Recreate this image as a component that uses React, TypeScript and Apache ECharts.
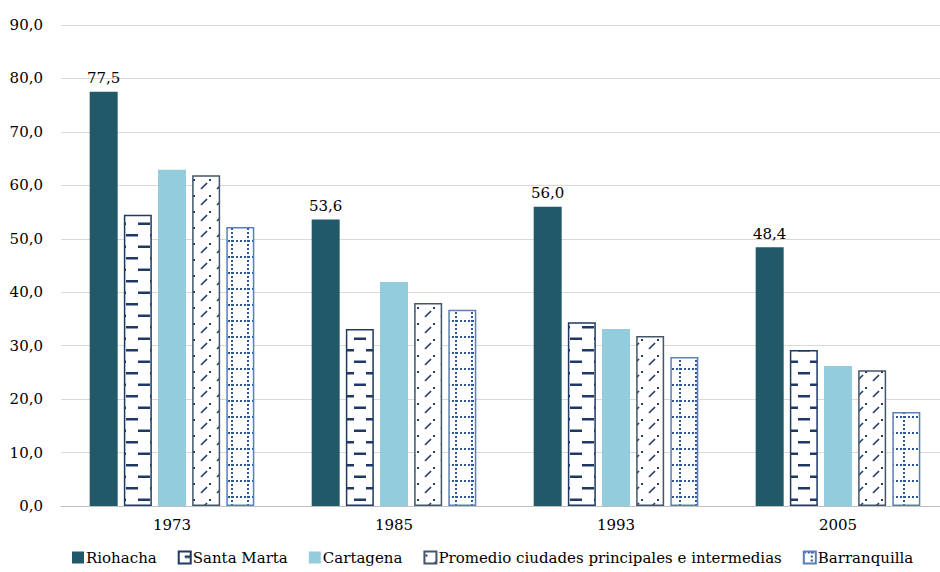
import React, { useEffect, useRef } from "react";
import * as echarts from "echarts";

const categories = ["1973", "1985", "1993", "2005"];
const seriesNames = [
  "Riohacha",
  "Santa Marta",
  "Cartagena",
  "Promedio ciudades principales e intermedias",
  "Barranquilla",
];
const riohacha = [77.5, 53.6, 56.0, 48.4];
const santaMarta = [54.5, 33.1, 34.4, 29.2];
const cartagena = [62.9, 41.9, 33.1, 26.2];
const promedio = [61.9, 38.0, 31.8, 25.4];
const barranquilla = [52.2, 36.7, 27.9, 17.6];
const yTicks = { min: 0, max: 90, interval: 10 };

const FONT = "DejaVu Serif";
const FS = 15;

function makeCanvas(w: number, h: number, draw: (c: CanvasRenderingContext2D) => void) {
  const cv = document.createElement("canvas");
  cv.width = w;
  cv.height = h;
  const ctx = cv.getContext("2d")!;
  ctx.fillStyle = "#ffffff";
  ctx.fillRect(0, 0, w, h);
  draw(ctx);
  return cv;
}

const fmt = (v: number) => v.toFixed(1).replace(".", ",");

export default function App() {
  const ref = useRef<HTMLDivElement>(null);
  useEffect(() => {
    if (!ref.current) return;
    document.documentElement.style.overflow = "hidden";
    document.body.style.overflow = "hidden";
    const chart = echarts.init(ref.current, undefined, { renderer: "svg" });

    const dashCanvas = makeCanvas(24, 23, (c) => {
      c.fillStyle = "#1f3864";
      c.fillRect(6, 4, 12, 2.5);
      c.fillRect(18, 15.5, 6, 2.5);
      c.fillRect(0, 15.5, 6, 2.5);
    });
    const slashCanvas = makeCanvas(16, 16, (c) => {
      c.strokeStyle = "#1f3864";
      c.lineWidth = 1.6;
      c.beginPath();
      c.moveTo(9, 13);
      c.lineTo(15, 7);
      c.stroke();
      c.fillStyle = "#1f3864";
      c.fillRect(1, 3, 2, 2);
    });
    const dotCanvas = makeCanvas(16, 16, (c) => {
      c.fillStyle = "#2f5597";
      for (let x = 0; x < 16; x += 4) c.fillRect(x, 0, 2, 2);
      for (let y = 4; y < 16; y += 4) c.fillRect(7, y, 2, 2);
      c.fillRect(7, 0, 2, 2);
    });

    const styles: any[] = [
      { color: "#215968" },
      { color: { image: dashCanvas, repeat: "repeat" }, borderColor: "#1f3864", borderWidth: 1.5 },
      { color: "#93cddd" },
      { color: { image: slashCanvas, repeat: "repeat" }, borderColor: "#44546a", borderWidth: 1.5 },
      { color: { image: dotCanvas, repeat: "repeat" }, borderColor: "#5a7fb5", borderWidth: 1.5 },
    ];
    const datas = [riohacha, santaMarta, cartagena, promedio, barranquilla];

    const series = seriesNames.map((name, i) => ({
      name,
      type: "bar",
      data: datas[i],
      barWidth: 28,
      barGap: "22%",
      itemStyle: styles[i],
      label:
        i === 0
          ? {
              show: true,
              position: "top",
              distance: 6,
              formatter: (p: any) => fmt(p.value),
              fontFamily: FONT,
              fontSize: FS,
              color: "#000",
            }
          : { show: false },
    }));

    chart.setOption({
      animation: false,
      textStyle: { fontFamily: FONT },
      grid: { left: 61, right: 1, top: 25, bottom: 66, containLabel: false },
      legend: {
        bottom: 2,
        left: 67,
        itemWidth: 12,
        itemHeight: 12,
        itemGap: 21,
        icon: "rect",
        textStyle: { fontFamily: FONT, fontSize: FS, color: "#000", padding: [0, 0, 0, -3] },
        data: seriesNames,
      },
      xAxis: {
        type: "category",
        data: categories,
        axisLine: { lineStyle: { color: "#bfbfbf", width: 1 } },
        axisTick: { show: false },
        axisLabel: { fontFamily: FONT, fontSize: FS, color: "#000", margin: 11 },
      },
      yAxis: {
        type: "value",
        min: yTicks.min,
        max: yTicks.max,
        interval: yTicks.interval,
        axisLine: { show: false },
        axisTick: { show: false },
        splitLine: { lineStyle: { color: "#d9d9d9", width: 1 } },
        axisLabel: {
          fontFamily: FONT,
          fontSize: FS,
          color: "#000",
          margin: 18,
          formatter: (v: number) => fmt(v),
        },
      },
      series,
    });
    return () => chart.dispose();
  }, []);
  return (
    <div
      ref={ref}
      style={{ position: "absolute", left: 0, top: 0, width: 950, height: 572, background: "#fff" }}
    />
  );
}
